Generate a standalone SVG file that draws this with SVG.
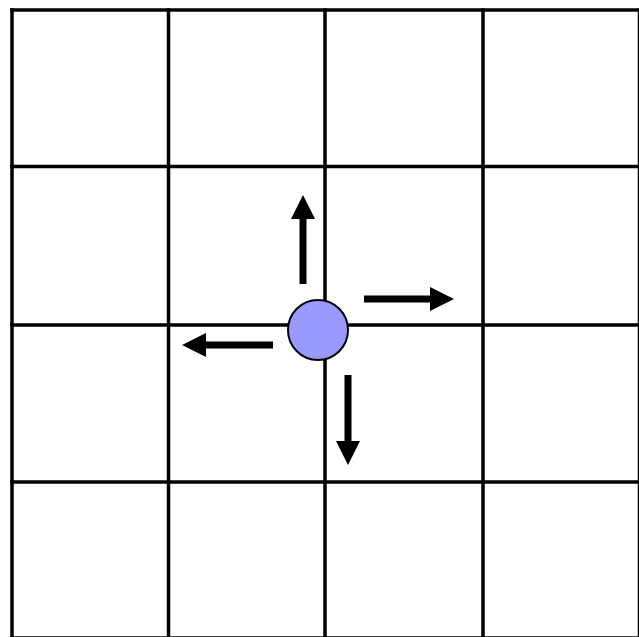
<svg xmlns="http://www.w3.org/2000/svg" width="639" height="637" viewBox="0 0 639 637">
<style>
.grid line{stroke:#000;stroke-width:3.5;stroke-linecap:square}
.arr{stroke:#000;stroke-width:7;fill:none}
.node{fill:#9999ff;stroke:#000;stroke-width:2}
</style>
<defs>
<marker id="ah" markerUnits="userSpaceOnUse" markerWidth="24" markerHeight="24" viewBox="0 0 24 24" refX="1" refY="12" orient="auto">
<path d="M0,0 L24,12 L0,24 Z" fill="#000"/>
</marker>
</defs>
<rect width="639" height="637" fill="#fff"/>
<g id="grid" class="grid">
<line x1="12" y1="10" x2="12" y2="645"/>
<line x1="168.5" y1="10" x2="168.5" y2="645"/>
<line x1="325" y1="10" x2="325" y2="645"/>
<line x1="483" y1="10" x2="483" y2="645"/>
<line x1="639.5" y1="10" x2="639.5" y2="645"/>
<line x1="12" y1="10" x2="645" y2="10"/>
<line x1="12" y1="166.5" x2="645" y2="166.5"/>
<line x1="12" y1="325" x2="645" y2="325"/>
<line x1="12" y1="482" x2="645" y2="482"/>
<line x1="12" y1="638" x2="645" y2="638"/>
</g>
<g id="connectors">
<line class="arr" x1="303" y1="284" x2="303" y2="218" marker-end="url(#ah)"/>
<line class="arr" x1="364" y1="299" x2="431" y2="299" marker-end="url(#ah)"/>
<line class="arr" x1="273" y1="345" x2="205" y2="345" marker-end="url(#ah)"/>
<line class="arr" x1="348" y1="375" x2="348" y2="442" marker-end="url(#ah)"/>
</g>
<g id="particle">
<circle class="node" cx="318" cy="330" r="30"/>
</g>
</svg>
